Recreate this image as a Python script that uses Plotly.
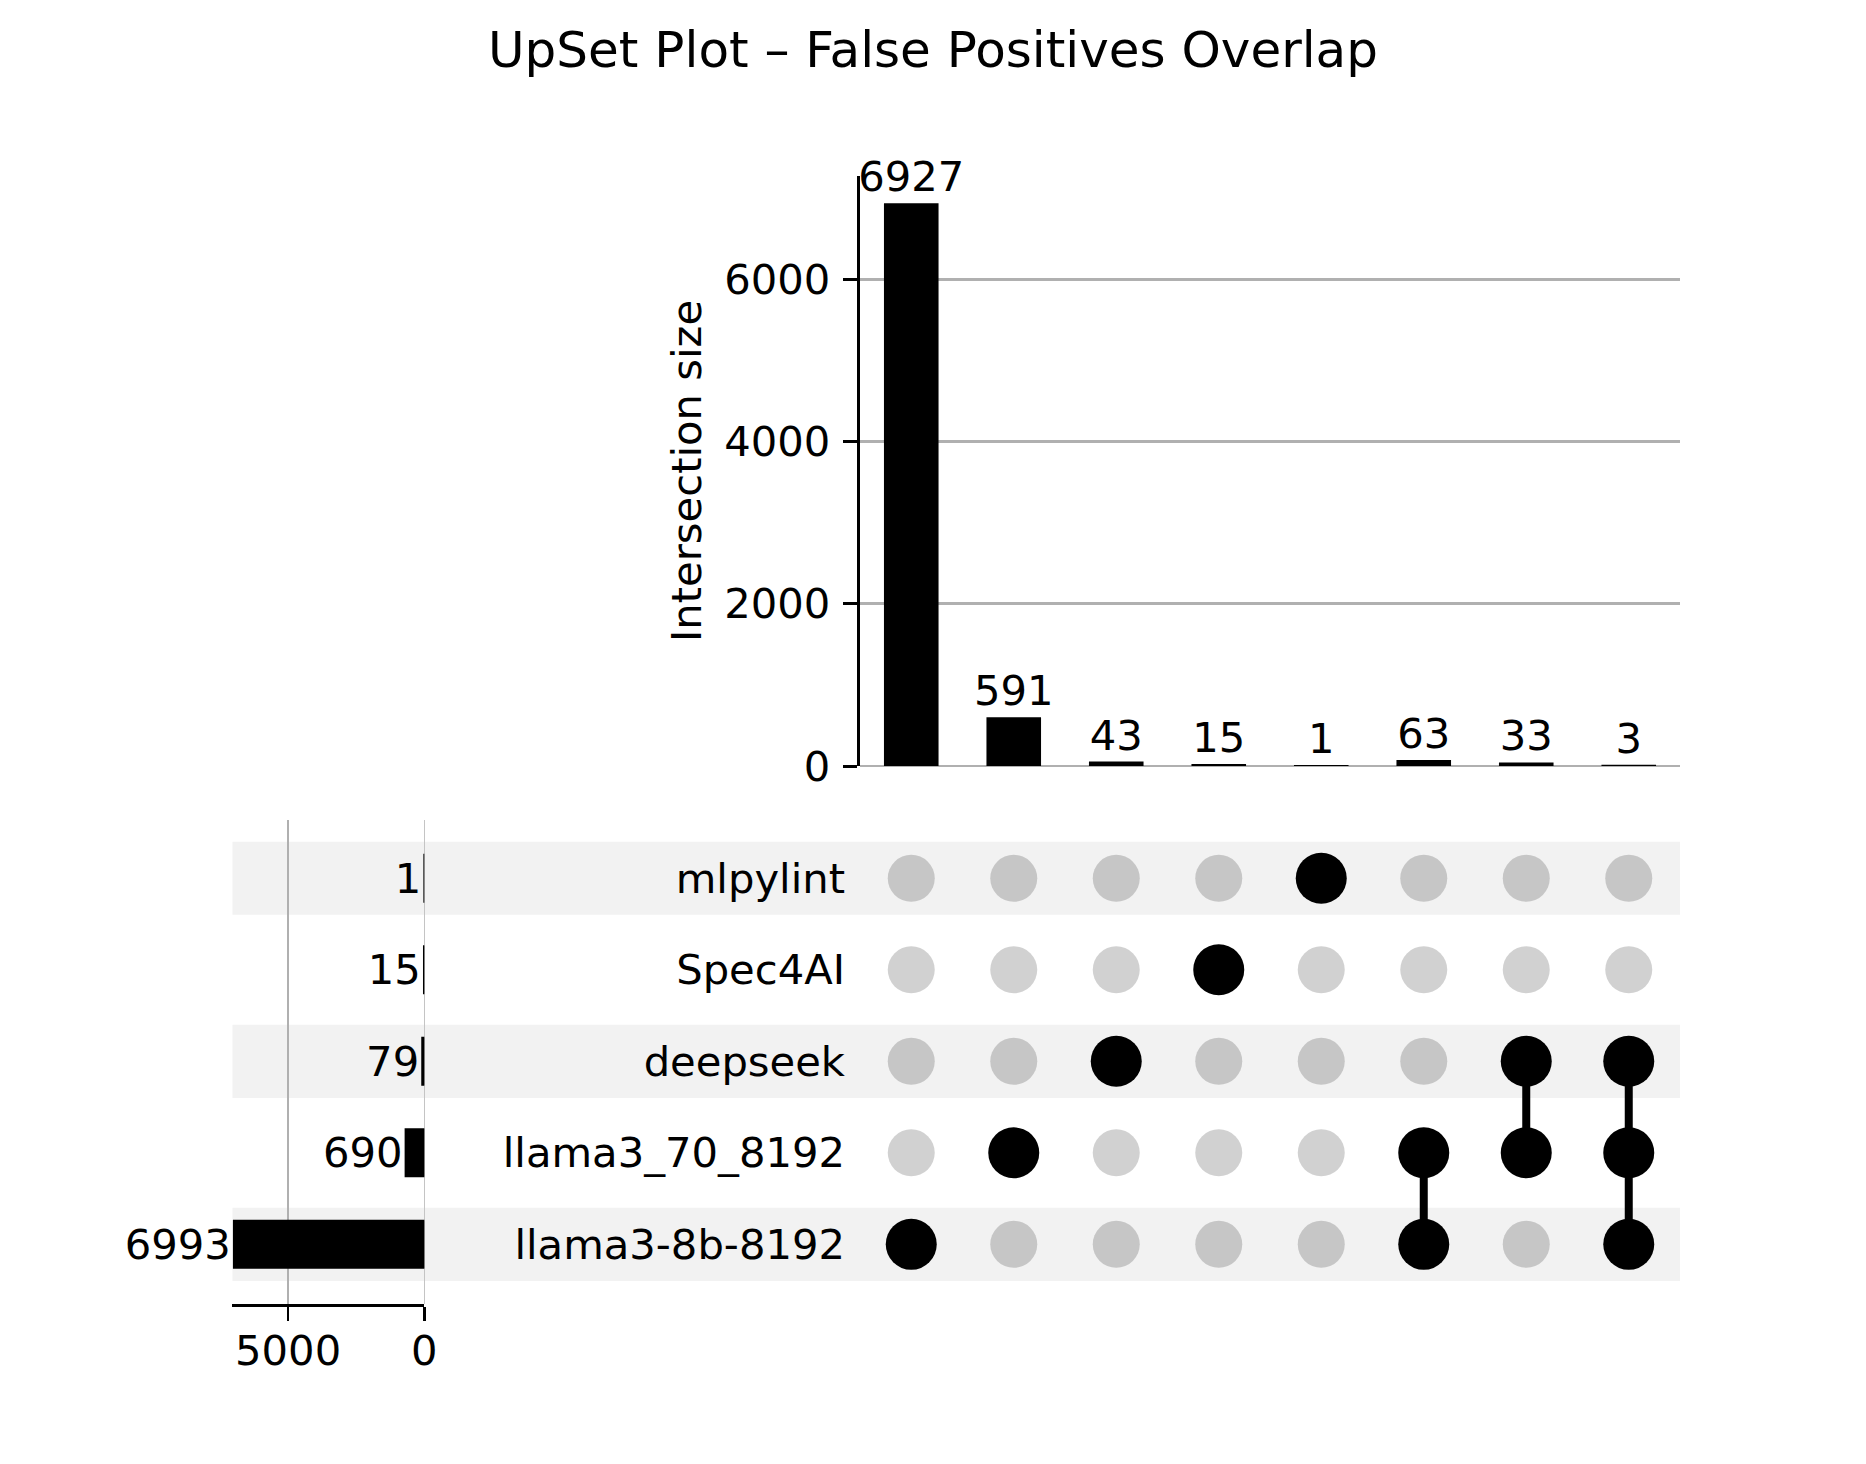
import plotly.graph_objects as go

# ---------------- data ----------------
title_text = "UpSet Plot – False Positives Overlap"
categories = ["llama3-8b-8192", "llama3_70_8192", "deepseek", "Spec4AI", "mlpylint"]  # bottom -> top
category_totals = [6993, 690, 79, 15, 1]
intersection_sizes = [6927, 591, 43, 15, 1, 63, 33, 3]
intersection_members = [
    ["llama3-8b-8192"],
    ["llama3_70_8192"],
    ["deepseek"],
    ["Spec4AI"],
    ["mlpylint"],
    ["llama3-8b-8192", "llama3_70_8192"],
    ["llama3_70_8192", "deepseek"],
    ["llama3-8b-8192", "llama3_70_8192", "deepseek"],
]
size_ticks = [0, 2000, 4000, 6000]
total_ticks = [0, 5000]
size_axis_title = "Intersection size"

# ---------------- geometry (pixels of a 1866x1464 canvas) ----------------
W, H = 1866, 1464
FONT = "DejaVu Sans"
FS = 41.7


def fx(p):
    return p / W


def fy(p):
    return 1 - p / H


x_dom_mat = [fx(860.0), fx(1680.0)]
y_dom_top = [fy(766.0), fy(176.0)]
y_dom_mat = [fy(1303.8), fy(819.7)]
x_dom_left = [fx(232.0), fx(424.3)]
row_range = [-0.65, 4.64]
col_range = [-0.5, len(intersection_sizes) - 0.5]

n_cols = len(intersection_sizes)
n_rows = len(categories)
cols = list(range(n_cols))
rows = list(range(n_rows))

fig = go.Figure()

# top: intersection sizes
fig.add_trace(go.Bar(
    x=cols, y=intersection_sizes, width=0.515,
    marker=dict(color="black", line=dict(width=1.8, color="black")),
    text=[str(v) for v in intersection_sizes], textposition="outside",
    textfont=dict(family=FONT, size=FS, color="black"), constraintext="none",
    cliponaxis=False, xaxis="x", yaxis="y", hoverinfo="skip", showlegend=False,
))

# left: category totals
fig.add_trace(go.Bar(
    y=rows, x=category_totals, orientation="h", width=0.515,
    marker=dict(color="black", line=dict(width=1.8, color="black")),
    text=[str(v) for v in category_totals], textposition="outside",
    textfont=dict(family=FONT, size=FS, color="black"), constraintext="none",
    cliponaxis=False, xaxis="x3", yaxis="y3", hoverinfo="skip", showlegend=False,
))

# matrix
in_x, in_y, act_x, act_y, lx, ly = [], [], [], [], [], []
for j, members in enumerate(intersection_members):
    idx = [categories.index(m) for m in members]
    for i in rows:
        if i in idx:
            act_x.append(j)
            act_y.append(i)
        else:
            in_x.append(j)
            in_y.append(i)
    if len(idx) > 1:
        lx += [j, j, None]
        ly += [min(idx), max(idx), None]

fig.add_trace(go.Scatter(
    x=in_x, y=in_y, mode="markers",
    marker=dict(size=47, color="rgba(0,0,0,0.18)", line=dict(width=0)),
    xaxis="x2", yaxis="y2", hoverinfo="skip", showlegend=False,
))
fig.add_trace(go.Scatter(
    x=lx, y=ly, mode="lines", line=dict(color="black", width=8),
    xaxis="x2", yaxis="y2", hoverinfo="skip", showlegend=False,
))
fig.add_trace(go.Scatter(
    x=act_x, y=act_y, mode="markers",
    marker=dict(size=51, color="black", line=dict(width=0)),
    xaxis="x2", yaxis="y2", hoverinfo="skip", showlegend=False,
))

# shading bands on alternate rows
shapes = []
for i in rows:
    if i % 2 == 0:
        shapes.append(dict(
            type="rect", xref="paper", yref="y2",
            x0=fx(232.5), x1=fx(1680.0), y0=i - 0.4, y1=i + 0.4,
            fillcolor="#f2f2f2", line=dict(width=0), layer="below",
        ))

tickfont = dict(family=FONT, size=FS, color="black")

fig.update_layout(
    width=W, height=H, autosize=False,
    margin=dict(l=0, r=0, t=0, b=0, pad=0),
    paper_bgcolor="white", plot_bgcolor="rgba(0,0,0,0)",
    font=dict(family=FONT, size=FS, color="black"),
    title=dict(text=title_text, x=0.5, xref="paper", xanchor="center",
               y=fy(49.2), yref="container", yanchor="middle",
               font=dict(family=FONT, size=50, color="black")),
    showlegend=False,
    bargap=0,
    shapes=shapes,
    xaxis=dict(domain=x_dom_mat, anchor="y", range=col_range, visible=False,
               fixedrange=True, automargin=False),
    yaxis=dict(domain=y_dom_top, anchor="x", range=[0, max(intersection_sizes) * 1.05],
               tickvals=size_ticks, ticktext=[str(t) for t in size_ticks],
               ticks="outside", ticklen=14.3, tickwidth=3, tickcolor="black",
               showline=True, linewidth=3, linecolor="black",
               showgrid=True, gridcolor="#b0b0b0", gridwidth=3.3,
               zeroline=True, zerolinecolor="#b0b0b0", zerolinewidth=1.6,
               tickfont=tickfont, ticklabelstandoff=4, fixedrange=True, automargin=False),
    xaxis2=dict(domain=x_dom_mat, anchor="y2", range=col_range, visible=False,
                fixedrange=True, automargin=False),
    yaxis2=dict(domain=y_dom_mat, anchor="x2", range=row_range,
                tickvals=rows, ticktext=categories, ticks="",
                showline=False, showgrid=False, zeroline=False,
                tickfont=tickfont, ticklabelstandoff=14, fixedrange=True, automargin=False),
    xaxis3=dict(domain=x_dom_left, anchor="y3", range=[7060, 0],
                tickvals=total_ticks, ticktext=[str(t) for t in total_ticks],
                ticks="outside", ticklen=14, tickwidth=2.7, tickcolor="black",
                showline=True, linewidth=2.7, linecolor="black",
                showgrid=True, gridcolor="#b0b0b0", gridwidth=2.7,
                zeroline=True, zerolinecolor="#c4c4c4", zerolinewidth=1.3,
                tickfont=tickfont, ticklabelstandoff=-6, fixedrange=True, automargin=False),
    yaxis3=dict(domain=y_dom_mat, anchor="x3", range=row_range, visible=False,
                fixedrange=True, automargin=False),
    annotations=[dict(
        text=size_axis_title, textangle=-90, xref="paper", yref="paper",
        x=fx(686), y=fy(471), xanchor="center", yanchor="middle", showarrow=False,
        font=dict(family=FONT, size=FS, color="black"),
    )],
)

fig.write_html(
    "out.html",
    config={"displayModeBar": False, "staticPlot": True},
    post_script="document.body.style.margin='0';document.body.style.overflow='hidden';",
)
